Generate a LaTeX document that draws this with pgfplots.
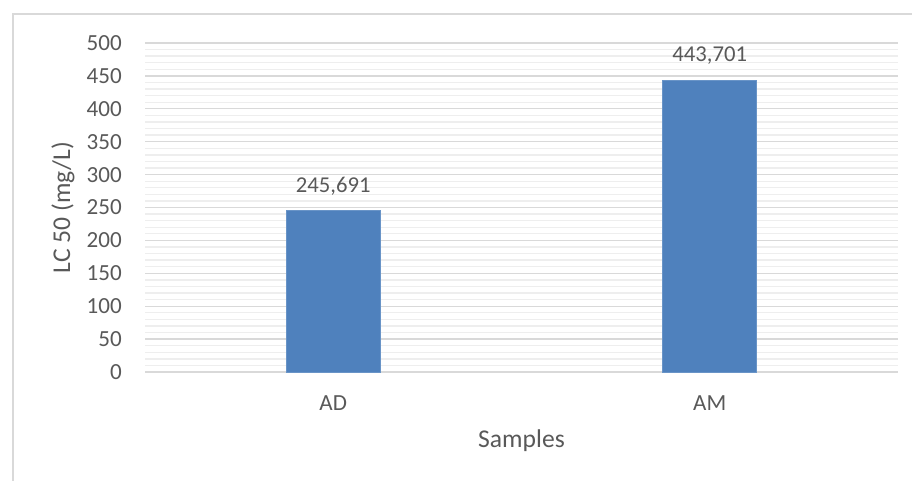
\documentclass[border=0pt]{standalone}
\usepackage{pgfplots}
\pgfplotsset{compat=1.18}
\usepackage{fontspec}
\setmainfont{Carlito}
\definecolor{txt}{HTML}{595959}
\definecolor{majgrid}{HTML}{D9D9D9}
\definecolor{mingrid}{HTML}{EEEEEE}
\definecolor{barblue}{HTML}{4F81BD}
\begin{document}
\begin{tikzpicture}
\useasboundingbox (0pt,0pt) rectangle (684pt,360pt);
% chart area frame
\draw[majgrid, line width=1.2pt] (9.75pt,-15pt) rectangle (705pt,349.5pt);
\begin{axis}[
  at={(108.75pt,81pt)}, anchor=south west,
  scale only axis,
  width=564.75pt, height=246.75pt,
  xmin=-0.5, xmax=1.5,
  ymin=0, ymax=500,
  ytick={0,50,...,500},
  minor y tick num=4,
  xtick={0,1},
  xticklabels={AD,AM},
  ymajorgrids, yminorgrids,
  major grid style={majgrid, line width=1pt},
  minor grid style={mingrid, line width=1pt},
  axis line style={draw=none},
  major tick length=0pt, minor tick length=0pt,
  /pgf/number format/assume math mode=true,
  tick label style={font=\fontsize{17.3}{20}\selectfont, text=txt},
  yticklabel style={anchor=east, inner sep=0pt, xshift=-17.25pt},
  xticklabel style={anchor=center, inner sep=0pt, yshift=-23.25pt},
  ylabel={LC 50 (mg/L)},
  xlabel={Samples},
  label style={font=\fontsize{19.2}{22}\selectfont, text=txt},
  ylabel style={at={(axis description cs:-0.109,0.5)}, anchor=center, rotate=0},
  xlabel style={at={(axis description cs:0.5,-0.2097)}, anchor=center},
  ybar, bar width=70.5pt,
  nodes near coords,
  nodes near coords style={font=\fontsize{17}{20}\selectfont, text=txt,
    anchor=center, yshift=18pt,
    /pgf/number format/.cd, fixed, precision=3, zerofill, use comma},
]
\addplot[fill=barblue, draw=barblue!85!white, bar shift=0pt] coordinates {(0,245.691) (1,443.701)};
\end{axis}
\end{tikzpicture}
\end{document}
